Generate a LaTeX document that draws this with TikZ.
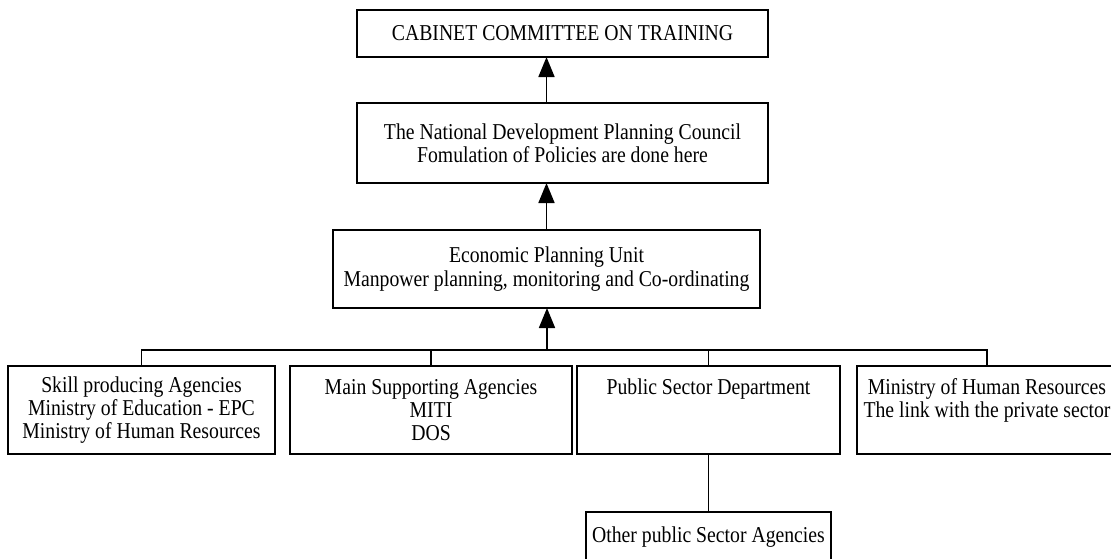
\documentclass[tikz,border=0pt]{standalone}
\usepackage{fontspec}
\setmainfont{Liberation Serif}[FakeStretch=0.87]
\usepackage{tikz}
\usetikzlibrary{positioning,arrows.meta,calc}
\tikzstyle{unit} = [draw=black, line width=1.3pt, inner sep=0pt, outer sep=0pt, align=center, font=\fontsize{17}{17.5}\selectfont]
\tikzstyle{arrow} = [line width=1.3pt,-{Triangle[width=12pt,length=15pt]}]
\tikzstyle{link} = [line width=1.3pt]

\begin{document}
\begin{tikzpicture}[x=0.75pt,y=-0.75pt]
        \clip (0,0) rectangle (1111,558);
        \node[unit, minimum width=308.25pt, minimum height=35.25pt] (cct) at (562.5,33.5) {CABINET COMMITTEE ON TRAINING};
        \node[unit, minimum width=308.25pt, minimum height=60pt] (ndpc) at (562.5,143) {The National Development Planning Council\\Fomulation of Policies are done here};
        \node[unit, minimum width=320.25pt, minimum height=58.5pt] (epu) at (546.5,269) {Economic Planning Unit\\Manpower planning, monitoring and Co-ordinating};
        \node[unit, minimum width=200.25pt, minimum height=66pt] (skill) at (141.5,410) {Skill producing Agencies\\Ministry of Education - EPC\\Ministry of Human Resources};
        \node[unit, minimum width=211.5pt, minimum height=66pt] (support) at (431,410) {Main Supporting Agencies\\MITI\\DOS};
        \node[unit, minimum width=197.25pt, minimum height=66pt] (psd) at (708.5,410) {Public Sector Department\\~\\~};
        \node[unit, minimum width=195pt, minimum height=66pt] (mhr) at (987,410) {Ministry of Human Resources\\The link with the private sector\\~};
        \node[unit, minimum width=183.75pt, minimum height=37.5pt] (other) at (708.5,537) {Other public Sector Agencies};
        \coordinate (bus) at (547,350);
        % upward reporting line
        \draw[arrow] (epu.north) -- (epu.north |- ndpc.south);
        \draw[arrow] (epu.north |- ndpc.north) -- (epu.north |- cct.south);
        \draw[arrow] (bus) -- (bus |- epu.south);
        % agencies
        \draw[link] (skill.north) -- (skill.north |- bus) -- (mhr.north |- bus) -- (mhr.north);
        \draw[link] (support.north) -- (support.north |- bus);
        \draw[link] (psd.north) -- (psd.north |- bus);
        \draw[link] (psd.south) -- (other.north);
\end{tikzpicture}
\end{document}
